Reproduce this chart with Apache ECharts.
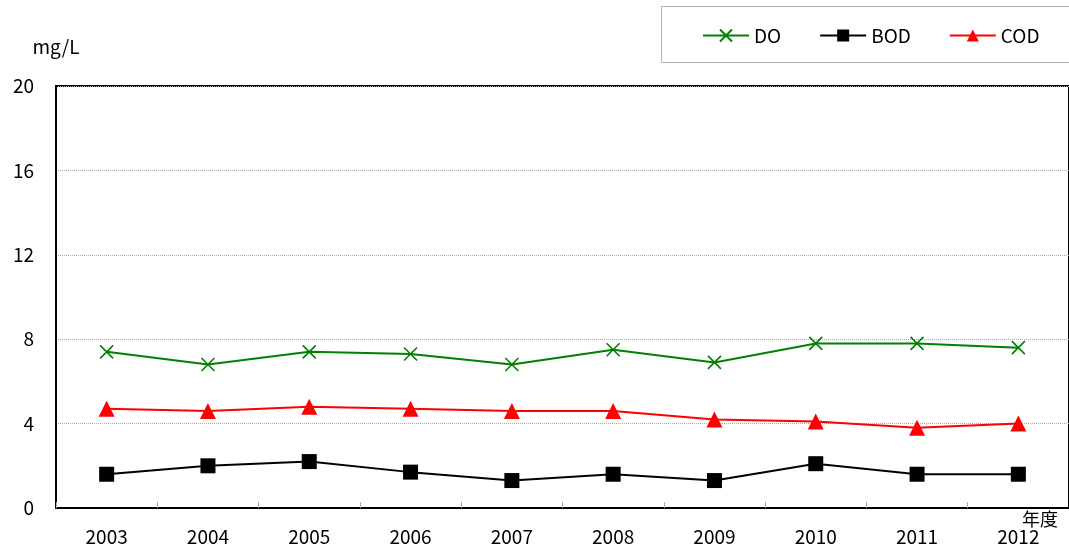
<!DOCTYPE html>
<html>
<head>
<meta charset="utf-8">
<script src="https://cdn.jsdelivr.net/npm/echarts@6/dist/echarts.min.js"></script>
<style>
  html, body { margin: 0; padding: 0; background: #fff; }
  #chart { width: 1069px; height: 547px; }
</style>
</head>
<body>
<div id="chart"></div>
<script>
// Water quality by fiscal year (mg/L)
const years = ['2003', '2004', '2005', '2006', '2007', '2008', '2009', '2010', '2011', '2012'];
const doValues  = [7.4, 6.8, 7.4, 7.3, 6.8, 7.5, 6.9, 7.8, 7.8, 7.6];
const bodValues = [1.6, 2.0, 2.2, 1.7, 1.3, 1.6, 1.3, 2.1, 1.6, 1.6];
const codValues = [4.7, 4.6, 4.8, 4.7, 4.6, 4.6, 4.2, 4.1, 3.8, 4.0];
const yTicks = [0, 4, 8, 12, 16, 20];

const FONT = '"Noto Sans CJK JP", "Liberation Sans", sans-serif';
const crossPath = 'path://M0,0L10,10M10,0L0,10';

const chart = echarts.init(document.getElementById('chart'), null, { renderer: 'canvas' });

chart.setOption({
  animation: false,
  backgroundColor: '#ffffff',
  textStyle: { fontFamily: FONT },
  grid: {
    left: 56, top: 86, right: -4, bottom: 39,
    show: true, borderColor: '#000', borderWidth: 2,
    containLabel: false
  },
  legend: {
    left: 661, top: 6,
    width: 420,
    padding: [20, 0, 20, 41],
    itemGap: 38,
    itemWidth: 46, itemHeight: 15,
    textStyle: { fontFamily: FONT, fontSize: 19, color: '#000' },
    data: ['DO', 'BOD', 'COD']
  },
  xAxis: {
    type: 'category',
    data: years,
    boundaryGap: true,
    axisLine: { lineStyle: { color: '#000', width: 2 } },
    axisTick: { show: true, inside: true, length: 6, lineStyle: { color: '#aaa', width: 1 } },
    axisLabel: { fontSize: 19, color: '#000', margin: 19, fontFamily: FONT },
    splitLine: { show: false }
  },
  yAxis: {
    type: 'value',
    min: yTicks[0], max: yTicks[yTicks.length - 1], interval: 4,
    name: 'mg/L',
    nameLocation: 'end',
    nameGap: 30,
    nameTextStyle: { fontSize: 19, color: '#000', fontFamily: FONT, align: 'center' },
    axisLine: { show: true, lineStyle: { color: '#000', width: 2 } },
    axisTick: { show: false },
    axisLabel: { fontSize: 19, color: '#000', margin: 22, fontFamily: FONT },
    splitLine: { show: true, lineStyle: { color: '#aaa', type: 'dotted', width: 1 } }
  },
  graphic: [
    {
      // legend frame
      type: 'rect',
      shape: { x: 661.5, y: 6.5, width: 420, height: 56 },
      style: { fill: 'none', stroke: '#b4b4b4', lineWidth: 1 },
      z: 10
    },
    {
      type: 'text',
      left: 1022, top: 510,
      style: { text: '年度', font: '18px ' + FONT, fill: '#000' }
    }
  ],
  series: [
    {
      name: 'DO', type: 'line', data: doValues,
      symbol: crossPath, symbolSize: 13,
      lineStyle: { color: '#008000', width: 2 },
      itemStyle: { color: '#008000', borderColor: '#008000', borderWidth: 1.6 }
    },
    {
      name: 'BOD', type: 'line', data: bodValues,
      symbol: 'rect', symbolSize: 15,
      lineStyle: { color: '#000', width: 2 },
      itemStyle: { color: '#000' }
    },
    {
      name: 'COD', type: 'line', data: codValues,
      symbol: 'triangle', symbolSize: 16,
      lineStyle: { color: '#ff0000', width: 2 },
      itemStyle: { color: '#ff0000' }
    }
  ]
});
</script>
</body>
</html>
